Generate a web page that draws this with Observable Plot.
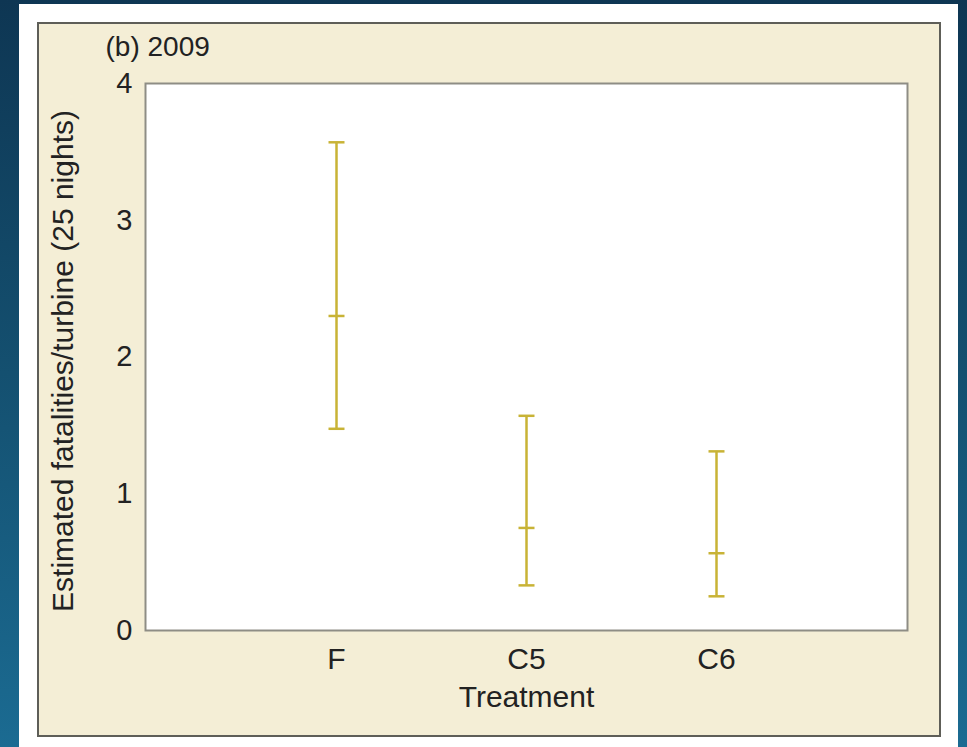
<!DOCTYPE html>
<html><head><meta charset="utf-8">
<script src="https://cdn.jsdelivr.net/npm/d3@7"></script>
<script src="https://cdn.jsdelivr.net/npm/@observablehq/plot@0.6"></script>
<style>
html,body{margin:0;padding:0;}
body{width:967px;height:747px;background:linear-gradient(180deg,#0e3653 0%,#145070 50%,#1b6b92 100%);position:relative;overflow:hidden;font-family:"Liberation Sans",Arial,sans-serif;}
#panel{position:absolute;left:19px;top:4px;width:939px;height:760px;background:#fff;}
#chart{position:absolute;left:37px;top:22px;width:904px;height:715px;background:#f4eed6;box-shadow:inset 0 0 0 2px #5e5e58;}
#chart svg{position:absolute;left:0;top:0;}
</style></head><body>
<div id="panel"></div><div id="chart"></div>
<script>
const treatments = ["F", "C5", "C6"];
const estimate = [2.30, 0.75, 0.565];
const lower = [1.475, 0.33, 0.25];
const upper = [3.57, 1.57, 1.31];
const yTicks = [0, 1, 2, 3, 4];
const title = "(b) 2009";
const xLabel = "Treatment";
const yLabel = "Estimated fatalities/turbine (25 nights)";

const data = treatments.map((t, i) => ({treatment: t, estimate: estimate[i], lower: lower[i], upper: upper[i]}));
const color = "#c8b336";
const ink = "#222";
const font = "'Liberation Sans', Arial, sans-serif";
const hline = {draw(context, size) { const r = Math.sqrt(size / Math.PI); context.moveTo(-r, 0); context.lineTo(r, 0); }};
const cap = (y) => Plot.dot(data, {x: "treatment", y, symbol: hline, r: 8, fill: "none", stroke: color, strokeWidth: 2.5});

const plot = Plot.plot({
  width: 904, height: 715,
  marginLeft: 108, marginTop: 61, marginRight: 34, marginBottom: 107,
  style: {background: "transparent", fontFamily: font, color: ink},
  x: {type: "point", domain: treatments, padding: 1},
  y: {domain: [0, 4]},
  marks: [
    Plot.frame({fill: "#fff", stroke: "#8e8d85", strokeWidth: 2}),
    Plot.axisY({ticks: yTicks, tickFormat: d => String(d), tickSize: 0, tickPadding: 13, fontSize: 29, label: null}),
    Plot.axisX({tickSize: 0, tickPadding: 17, fontSize: 30, label: null}),
    Plot.text([yLabel], {frameAnchor: "left", text: d => d, rotate: -90, dx: -82, dy: 4, textAnchor: "middle", lineAnchor: "middle", fontSize: 30, fill: ink}),
    Plot.text([xLabel], {frameAnchor: "bottom", text: d => d, dy: 67, textAnchor: "middle", lineAnchor: "middle", fontSize: 30, fill: ink}),
    Plot.ruleX(data, {x: "treatment", y1: "lower", y2: "upper", stroke: color, strokeWidth: 2.5}),
    cap("upper"), cap("estimate"), cap("lower"),
    Plot.text([title], {frameAnchor: "top-left", text: d => d, dx: -40, dy: -36, textAnchor: "start", lineAnchor: "middle", fontSize: 28, fill: ink})
  ]
});
document.getElementById("chart").appendChild(plot);
</script>
</body></html>
